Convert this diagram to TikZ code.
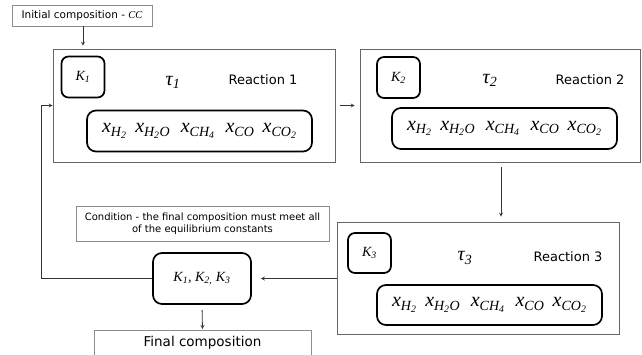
\documentclass[tikz,border=0pt]{standalone}
\usepackage{fontspec}
\setmainfont{DejaVu Sans}
\newfontfamily\tms{Liberation Serif}
\usetikzlibrary{arrows}

\newcommand{\xsp}[2]{x\textsubscript{#1\textsubscript{#2}}}
\newcommand{\xsb}[1]{x\textsubscript{#1}}
\newcommand{\xrow}{{\tms\itshape\fontsize{20}{22}\selectfont \xsp{H}{2}\, x\textsubscript{H\textsubscript{2}O}\; x\textsubscript{CH\textsubscript{4}}\; \xsb{CO}\, \xsp{CO}{2}}}

\begin{document}
\begin{tikzpicture}[x=1pt,y=-1pt,
  outer/.style={draw=black!60, line width=0.6pt, minimum width=282pt, minimum height=113pt, inner sep=0pt},
  note/.style={draw=black!45, line width=0.5pt, inner sep=0pt, align=center},
  kbox/.style={draw=black, line width=1.7pt, rounded corners=7pt, minimum width=43pt, minimum height=41pt, inner sep=0pt},
  xbox/.style={draw=black, line width=1.7pt, rounded corners=9pt, minimum width=225pt, minimum height=41pt, inner sep=0pt},
  kay/.style={font=\tms\itshape\fontsize{14}{16}\selectfont},
  tau/.style={font=\tms\itshape\fontsize{20}{22}\selectfont},
  rname/.style={font=\fontsize{13}{15}\selectfont},
  arr/.style={->, >=stealth, line width=0.8pt, draw=black!80}]
\useasboundingbox (0,0) rectangle (642,355);

% stage 1
\node[outer] (r1) at (194,105.5) {};
\node[kbox] (k1) at (83,77) {};
\node[kay] at (k1) {K\textsubscript{1}};
\node[tau] (t1) at (173,82) {τ\textsubscript{1}};
\node[rname] (l1) at (263,80) {Reaction 1};
\node[xbox] (x1) at (199.5,131) {\xrow};

% stage 2
\node[outer, minimum width=280pt] (r2) at (500,105.5) {};
\node[kbox] (k2) at (398.5,77.5) {};
\node[kay] at (k2) {K\textsubscript{2}};
\node[tau] (t2) at (490,80) {τ\textsubscript{2}};
\node[rname] (l2) at (590,80) {Reaction 2};
\node[xbox] (x2) at (504.5,128.5) {\xrow};

% stage 3
\node[outer, minimum height=112pt] (r3) at (478,278) {};
\node[kbox, minimum height=40pt] (k3) at (369.5,253) {};
\node[kay] at (k3) {K\textsubscript{3}};
\node[tau] (t3) at (465,258) {τ\textsubscript{3}};
\node[rname] (l3) at (568,257) {Reaction 3};
\node[xbox, minimum height=40pt] (x3) at (489.5,305) {\xrow};

% check
\node[note, minimum width=140pt, minimum height=21pt, font=\fontsize{10.5}{13}\selectfont] (init) at (82,15.5) {Initial composition - {\tms\itshape CC}};
\node[note, minimum width=253pt, minimum height=35pt, font=\fontsize{10}{12.5}\selectfont] (cond) at (202.5,223.5) {Condition - the final composition must meet all\\of the equilibrium constants};
\node[kbox, minimum width=98pt, minimum height=51pt, rounded corners=9pt, kay] (kall) at (202,278.5) {K\textsubscript{1}, K\textsubscript{2,} K\textsubscript{3}};
\node[note, minimum width=217pt, minimum height=30pt, anchor=north, font=\fontsize{13.5}{15}\selectfont, text depth=8pt] (fin) at (202.5,330) {Final composition};

\coordinate (fb) at (41,0);
\draw[arr, shorten >=3pt] (init.south -| k1) -- (k1 |- r1.north);
\draw[arr, shorten <=5pt, shorten >=5pt] (r1.east |- r1) -- (r2.west |- r1);
\draw[arr, shorten <=5pt, shorten >=5pt] (r2.south -| 501,0) -- (r3.north -| 501,0);
\draw[arr, shorten >=9pt] (r3.west |- kall) -- (kall.east);
\draw[arr, shorten <=5pt, shorten >=1pt] (kall.south) -- (fin.north);
\draw[arr] (kall.west) -| (fb |- r1.west) -- (r1.west);
\end{tikzpicture}
\end{document}
